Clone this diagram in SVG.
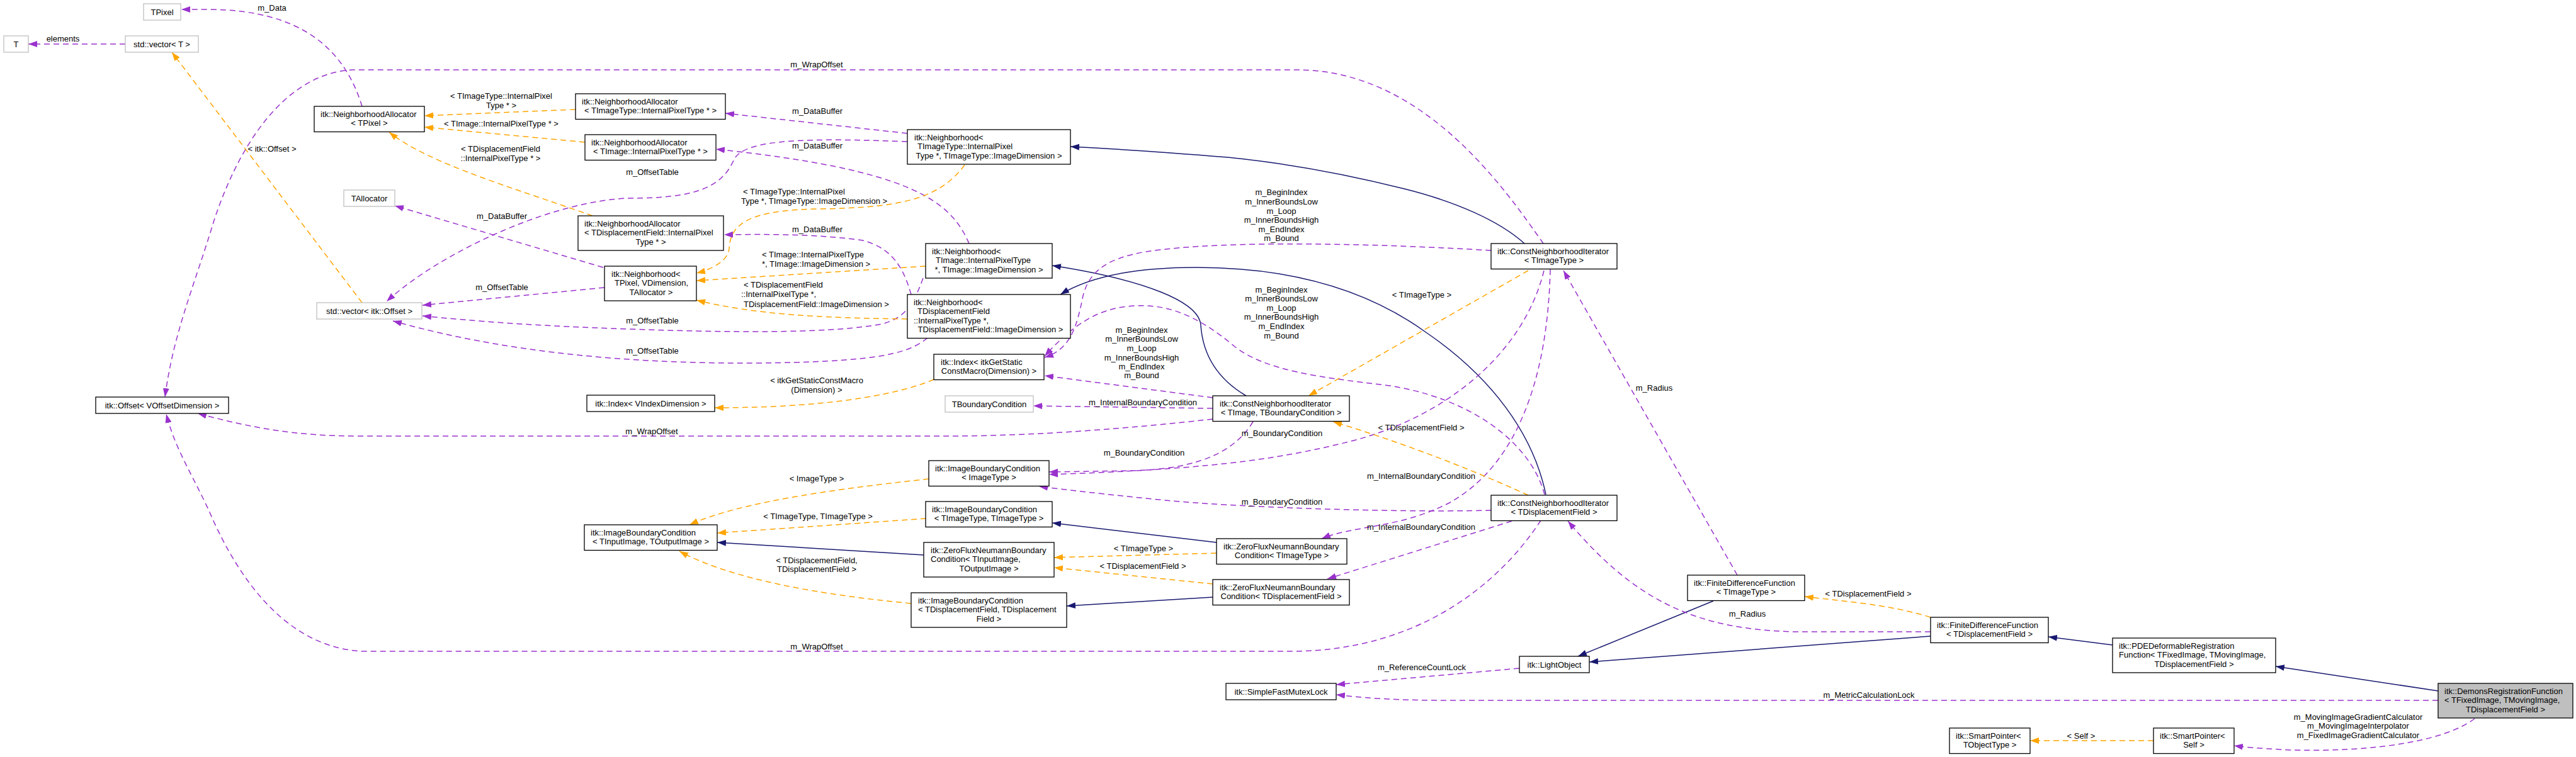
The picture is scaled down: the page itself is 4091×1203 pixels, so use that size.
<svg xmlns="http://www.w3.org/2000/svg" width="4091" height="1203" viewBox="0 0 4091 1203">
<style>
.n rect{fill:#fff;stroke:#000;stroke-width:1.3}
.g rect{stroke:#bfbfbf}
.hl rect{fill:#bfbfbf}
text{font-family:"Liberation Sans",Arial,sans-serif;font-size:13px;fill:#000}
.m{text-anchor:middle}
#edges path{fill:none;stroke-width:1.5}
.p{stroke:#9a32cd;stroke-dasharray:9,6;marker-end:url(#ap)}
.o{stroke:#ffa500;stroke-dasharray:9,6;marker-end:url(#ao)}
.b{stroke:#191970;marker-end:url(#ab)}
</style>
<defs>
<marker id="ap" markerUnits="userSpaceOnUse" markerWidth="15" markerHeight="10" refX="14" refY="5" orient="auto"><path d="M0,0 L14,5 L0,10 z" fill="#9a32cd"/></marker>
<marker id="ao" markerUnits="userSpaceOnUse" markerWidth="15" markerHeight="10" refX="14" refY="5" orient="auto"><path d="M0,0 L14,5 L0,10 z" fill="#ffa500"/></marker>
<marker id="ab" markerUnits="userSpaceOnUse" markerWidth="15" markerHeight="10" refX="14" refY="5" orient="auto"><path d="M0,0 L14,5 L0,10 z" fill="#191970"/></marker>
</defs>
<rect width="4091" height="1203" fill="#fff"/>
<g id="edges">
<path class="p" d="M199,70 L45,70"/>
<path class="p" d="M575,169 C548,80 480,15 330,15 L288,15"/>
<path class="o" d="M575,481 L273,83"/>
<path class="p" d="M2451,387 C2390,300 2260,111 2060,111 L560,111 C470,115 390,200 340,350 C310,450 275,530 262,631"/>
<path class="o" d="M914,174 L674,184"/>
<path class="o" d="M929,226 L674,202"/>
<path class="o" d="M941,343 C820,300 680,260 618,210"/>
<path class="p" d="M958,425 L627,327"/>
<path class="p" d="M1441,212 L1152,180"/>
<path class="p" d="M1539,387 C1510,320 1450,270 1137,237"/>
<path class="p" d="M1447,468 C1436,430 1420,395 1370,382 C1300,372 1220,372 1150,373"/>
<path class="p" d="M960,457 L671,485"/>
<path class="p" d="M1441,225 C1300,220 1180,218 1165,255 C1145,300 1100,315 1000,315 C880,318 700,400 614,479"/>
<path class="p" d="M1466,442 C1452,480 1440,505 1400,515 C1330,528 1200,530 1000,523 C850,518 750,510 671,502"/>
<path class="p" d="M1473,537 C1440,565 1380,575 1200,577 C1000,578 800,560 624,510"/>
<path class="o" d="M1532,262 C1490,320 1420,330 1300,332 C1190,334 1160,355 1158,395 C1156,415 1130,428 1106,434"/>
<path class="o" d="M1470,423 L1106,446"/>
<path class="o" d="M1441,507 C1300,505 1200,500 1106,477"/>
<path class="o" d="M1483,603 C1420,630 1300,648 1135,648"/>
<path class="p" d="M1926,666 C1800,680 1650,693 1500,693 L570,693 C470,693 400,680 314,657"/>
<path class="o" d="M1475,761 C1350,775 1180,795 1095,834"/>
<path class="o" d="M1471,824 L1139,847"/>
<path class="o" d="M1447,959 C1300,945 1160,920 1079,876"/>
<path class="p" d="M2447,827 C2380,930 2250,1035 2050,1035 L575,1035 C480,1030 400,960 340,830 C310,760 280,720 264,658"/>
<path class="o" d="M1932,879 L1674,886"/>
<path class="o" d="M1926,928 L1674,902"/>
<path class="b" d="M2421,387 C2380,350 2310,320 2230,300 C2150,280 2050,260 1950,250 C1850,242 1760,236 1700,233"/>
<path class="b" d="M1979,629 C1930,600 1910,560 1907,517 C1905,480 1820,445 1671,422"/>
<path class="b" d="M2455,786 C2435,690 2370,600 2263,527 C2170,460 2050,425 1900,425 C1800,425 1730,440 1684,468"/>
<path class="b" d="M1932,862 L1671,831"/>
<path class="b" d="M1467,882 L1139,862"/>
<path class="b" d="M1926,949 L1694,963"/>
<path class="b" d="M2721,955 L2506,1043"/>
<path class="b" d="M3066,1011 L2524,1052"/>
<path class="b" d="M3355,1025 L3253,1012"/>
<path class="b" d="M3872,1098 L3614,1059"/>
<path class="p" d="M2368,398 C2200,388 1950,380 1820,400 C1760,410 1730,430 1720,470 C1710,520 1700,555 1659,568"/>
<path class="p" d="M1926,632 L1659,597"/>
<path class="p" d="M2453,786 C2430,700 2330,630 2200,612 C2100,600 2010,590 1960,550 C1900,500 1850,480 1790,487 C1740,492 1700,520 1659,566"/>
<path class="p" d="M1926,649 L1641,645"/>
<path class="p" d="M1990,670 C1960,720 1900,745 1800,748 L1666,750"/>
<path class="p" d="M2452,430 C2420,560 2300,660 2150,700 C2050,725 1950,745 1666,754"/>
<path class="p" d="M2368,811 C2200,815 1950,805 1850,795 C1750,785 1690,778 1650,773"/>
<path class="p" d="M2462,428 C2458,600 2410,740 2300,800 C2220,840 2150,835 2099,856"/>
<path class="p" d="M2401,828 L2108,920"/>
<path class="o" d="M2427,430 L2078,629"/>
<path class="o" d="M2427,787 Q2280,720 2117,670"/>
<path class="p" d="M2759,914 L2483,430"/>
<path class="p" d="M3066,1004 L2850,1004 C2700,1000 2600,960 2490,828"/>
<path class="o" d="M3066,981 C3000,960 2920,955 2866,948"/>
<path class="p" d="M2413,1062 L2122,1088"/>
<path class="p" d="M3872,1113 L2300,1113 C2200,1113 2160,1108 2122,1104"/>
<path class="o" d="M3420,1177 L3224,1177"/>
<path class="p" d="M3930,1142 C3880,1180 3760,1195 3640,1192 C3600,1190 3570,1188 3548,1185"/>
<g id="edge-labels">
<text class="m" x="100" y="65.5">elements</text>
<text class="m" x="432" y="17">m_Data</text>
<text class="m" x="432" y="240.5">&lt; itk::Offset &gt;</text>
<text class="m" x="1297" y="106.5">m_WrapOffset</text>
<text class="m" x="796" y="157">&lt; TImageType::InternalPixel</text>
<text class="m" x="796" y="172">Type * &gt;</text>
<text class="m" x="796" y="200.5">&lt; TImage::InternalPixelType * &gt;</text>
<text class="m" x="795" y="240.5">&lt; TDisplacementField</text>
<text class="m" x="795" y="255.5">::InternalPixelType * &gt;</text>
<text class="m" x="797" y="347.5">m_DataBuffer</text>
<text class="m" x="1298" y="180.5">m_DataBuffer</text>
<text class="m" x="1298" y="235.5">m_DataBuffer</text>
<text class="m" x="1298" y="368.5">m_DataBuffer</text>
<text class="m" x="1036" y="277.5">m_OffsetTable</text>
<text class="m" x="797" y="460.5">m_OffsetTable</text>
<text class="m" x="1036" y="513.5">m_OffsetTable</text>
<text class="m" x="1036" y="561.5">m_OffsetTable</text>
<text x="1180" y="308.5">&lt; TImageType::InternalPixel</text>
<text x="1177" y="323.5">Type *, TImageType::ImageDimension &gt;</text>
<text x="1210" y="408.5">&lt; TImage::InternalPixelType</text>
<text x="1210" y="423.5">*, TImage::ImageDimension &gt;</text>
<text x="1181" y="456.5">&lt; TDisplacementField</text>
<text x="1177" y="472">::InternalPixelType *,</text>
<text x="1181" y="487.5">TDisplacementField::ImageDimension &gt;</text>
<text class="m" x="1297" y="609">&lt; itkGetStaticConstMacro</text>
<text class="m" x="1297" y="624">(Dimension) &gt;</text>
<text class="m" x="1035" y="689.5">m_WrapOffset</text>
<text class="m" x="1297" y="764.5">&lt; ImageType &gt;</text>
<text class="m" x="1299" y="824.5">&lt; TImageType, TImageType &gt;</text>
<text class="m" x="1297" y="895">&lt; TDisplacementField,</text>
<text class="m" x="1297" y="909">TDisplacementField &gt;</text>
<text class="m" x="1297" y="1031.5">m_WrapOffset</text>
<text class="m" x="1816" y="875.5">&lt; TImageType &gt;</text>
<text class="m" x="1815" y="903.5">&lt; TDisplacementField &gt;</text>
<text class="m" x="2035" y="309.5">m_BeginIndex</text>
<text class="m" x="2035" y="324.5">m_InnerBoundsLow</text>
<text class="m" x="2035" y="339.5">m_Loop</text>
<text class="m" x="2035" y="353.5">m_InnerBoundsHigh</text>
<text class="m" x="2035" y="368.5">m_EndIndex</text>
<text class="m" x="2035" y="382.5">m_Bound</text>
<text class="m" x="2035" y="464.5">m_BeginIndex</text>
<text class="m" x="2035" y="479">m_InnerBoundsLow</text>
<text class="m" x="2035" y="493.5">m_Loop</text>
<text class="m" x="2035" y="508">m_InnerBoundsHigh</text>
<text class="m" x="2035" y="523">m_EndIndex</text>
<text class="m" x="2035" y="537.5">m_Bound</text>
<text class="m" x="1813" y="528.5">m_BeginIndex</text>
<text class="m" x="1813" y="543">m_InnerBoundsLow</text>
<text class="m" x="1813" y="557.5">m_Loop</text>
<text class="m" x="1813" y="572.5">m_InnerBoundsHigh</text>
<text class="m" x="1813" y="587">m_EndIndex</text>
<text class="m" x="1813" y="601">m_Bound</text>
<text class="m" x="1815" y="643.5">m_InternalBoundaryCondition</text>
<text class="m" x="1817" y="723.5">m_BoundaryCondition</text>
<text class="m" x="2036" y="692.5">m_BoundaryCondition</text>
<text class="m" x="2036" y="801.5">m_BoundaryCondition</text>
<text class="m" x="2258" y="472.5">&lt; TImageType &gt;</text>
<text class="m" x="2257" y="683.5">&lt; TDisplacementField &gt;</text>
<text class="m" x="2257" y="760.5">m_InternalBoundaryCondition</text>
<text class="m" x="2257" y="841.5">m_InternalBoundaryCondition</text>
<text class="m" x="2627" y="620.5">m_Radius</text>
<text class="m" x="2775" y="979.5">m_Radius</text>
<text class="m" x="2967" y="947.5">&lt; TDisplacementField &gt;</text>
<text class="m" x="2258" y="1064.5">m_ReferenceCountLock</text>
<text class="m" x="2968" y="1108.5">m_MetricCalculationLock</text>
<text class="m" x="3305" y="1173.5">&lt; Self &gt;</text>
<text class="m" x="3745" y="1143.5">m_MovingImageGradientCalculator</text>
<text class="m" x="3745" y="1157.5">m_MovingImageInterpolator</text>
<text class="m" x="3745" y="1172.5">m_FixedImageGradientCalculator</text>
</g>
</g>
<g id="nodes">
<g id="TPixel" class="n g"><rect x="228" y="6" width="59" height="26"/><text class="m" x="257.5" y="23.5">TPixel</text></g>
<g id="T" class="n g"><rect x="6" y="57" width="39" height="26"/><text class="m" x="25.5" y="74.5">T</text></g>
<g id="vectorT" class="n g"><rect x="199" y="57" width="116" height="26"/><text class="m" x="257" y="74.5">std::vector&lt; T &gt;</text></g>
<g id="NA_TPixel" class="n"><rect x="499" y="169" width="175" height="40.5"/><text x="509" y="185.5">itk::NeighborhoodAllocator</text><text class="m" x="586.5" y="200">&lt; TPixel &gt;</text></g>
<g id="NA_TImageType" class="n"><rect x="914" y="149" width="238" height="40.5"/><text x="924" y="165.5">itk::NeighborhoodAllocator</text><text class="m" x="1033" y="180">&lt; TImageType::InternalPixelType * &gt;</text></g>
<g id="NA_TImage" class="n"><rect x="929" y="214" width="208" height="40.5"/><text x="939" y="230.5">itk::NeighborhoodAllocator</text><text class="m" x="1033" y="245">&lt; TImage::InternalPixelType * &gt;</text></g>
<g id="NA_TDF" class="n"><rect x="918" y="343" width="231" height="55"/><text x="928" y="359.5">itk::NeighborhoodAllocator</text><text x="928" y="374">&lt; TDisplacementField::InternalPixel</text><text class="m" x="1033.5" y="388.5">Type * &gt;</text></g>
<g id="TAllocator" class="n g"><rect x="546" y="302" width="81" height="26"/><text class="m" x="586.5" y="319.5">TAllocator</text></g>
<g id="vectorOffset" class="n g"><rect x="503" y="481" width="167" height="26"/><text class="m" x="586.5" y="498.5">std::vector&lt; itk::Offset &gt;</text></g>
<g id="Offset" class="n"><rect x="152" y="631" width="211" height="26"/><text class="m" x="257.5" y="648.5">itk::Offset&lt; VOffsetDimension &gt;</text></g>
<g id="NB_TPixel" class="n"><rect x="960" y="423" width="146" height="55"/><text x="971" y="439.5">itk::Neighborhood&lt;</text><text x="976" y="454">TPixel, VDimension,</text><text class="m" x="1034" y="468.5">TAllocator &gt;</text></g>
<g id="NB_TImageType" class="n"><rect x="1441" y="206" width="259" height="55"/><text x="1452" y="222.5">itk::Neighborhood&lt;</text><text x="1457" y="237">TImageType::InternalPixel</text><text class="m" x="1570.5" y="251.5">Type *, TImageType::ImageDimension &gt;</text></g>
<g id="NB_TImage" class="n"><rect x="1470" y="387" width="201" height="55"/><text x="1480" y="403.5">itk::Neighborhood&lt;</text><text x="1486" y="418">TImage::InternalPixelType</text><text class="m" x="1570.5" y="432.5">*, TImage::ImageDimension &gt;</text></g>
<g id="NB_TDF" class="n"><rect x="1441" y="468" width="259" height="69.5"/><text x="1451" y="484.5">itk::Neighborhood&lt;</text><text x="1457" y="499">TDisplacementField</text><text x="1451" y="513.5">::InternalPixelType *,</text><text class="m" x="1573" y="528">TDisplacementField::ImageDimension &gt;</text></g>
<g id="IndexV" class="n"><rect x="932" y="628" width="203" height="26"/><text class="m" x="1033.5" y="645.5">itk::Index&lt; VIndexDimension &gt;</text></g>
<g id="IndexG" class="n"><rect x="1483" y="563" width="175" height="40.5"/><text x="1494" y="579.5">itk::Index&lt; itkGetStatic</text><text class="m" x="1570.5" y="594">ConstMacro(Dimension) &gt;</text></g>
<g id="TBoundaryCondition" class="n g"><rect x="1501" y="629" width="140" height="26"/><text class="m" x="1571" y="646.5">TBoundaryCondition</text></g>
<g id="IBC_IO" class="n"><rect x="928" y="834" width="211" height="40.5"/><text x="938" y="850.5">itk::ImageBoundaryCondition</text><text class="m" x="1033.5" y="865">&lt; TInputImage, TOutputImage &gt;</text></g>
<g id="IBC_IT" class="n"><rect x="1475" y="732" width="191" height="40.5"/><text x="1485" y="748.5">itk::ImageBoundaryCondition</text><text class="m" x="1570.5" y="763">&lt; ImageType &gt;</text></g>
<g id="IBC_TT" class="n"><rect x="1470" y="797" width="201" height="40.5"/><text x="1480" y="813.5">itk::ImageBoundaryCondition</text><text class="m" x="1570.5" y="828">&lt; TImageType, TImageType &gt;</text></g>
<g id="ZF_IO" class="n"><rect x="1467" y="862" width="207" height="55"/><text x="1478" y="878.5">itk::ZeroFluxNeumannBoundary</text><text x="1478" y="893">Condition&lt; TInputImage,</text><text class="m" x="1570.5" y="907.5">TOutputImage &gt;</text></g>
<g id="IBC_DD" class="n"><rect x="1447" y="942" width="247" height="55"/><text x="1458" y="958.5">itk::ImageBoundaryCondition</text><text x="1458" y="973">&lt; TDisplacementField, TDisplacement</text><text class="m" x="1570.5" y="987.5">Field &gt;</text></g>
<g id="CNI_TIT" class="n"><rect x="2368" y="387" width="200" height="40.5"/><text x="2378" y="403.5">itk::ConstNeighborhoodIterator</text><text class="m" x="2468" y="418">&lt; TImageType &gt;</text></g>
<g id="CNI_TBC" class="n"><rect x="1926" y="629" width="217" height="40.5"/><text x="1937" y="645.5">itk::ConstNeighborhoodIterator</text><text class="m" x="2034.5" y="660">&lt; TImage, TBoundaryCondition &gt;</text></g>
<g id="CNI_TDF" class="n"><rect x="2368" y="787" width="200" height="40.5"/><text x="2378" y="803.5">itk::ConstNeighborhoodIterator</text><text class="m" x="2468" y="818">&lt; TDisplacementField &gt;</text></g>
<g id="ZF_TIT" class="n"><rect x="1932" y="856" width="207" height="40.5"/><text x="1943" y="872.5">itk::ZeroFluxNeumannBoundary</text><text class="m" x="2035.5" y="887">Condition&lt; TImageType &gt;</text></g>
<g id="ZF_TDF" class="n"><rect x="1926" y="921" width="217" height="40.5"/><text x="1937" y="937.5">itk::ZeroFluxNeumannBoundary</text><text class="m" x="2034.5" y="952">Condition&lt; TDisplacementField &gt;</text></g>
<g id="FDF_TIT" class="n"><rect x="2680" y="914" width="186" height="40.5"/><text x="2690" y="930.5">itk::FiniteDifferenceFunction</text><text class="m" x="2773" y="945">&lt; TImageType &gt;</text></g>
<g id="LightObject" class="n"><rect x="2413" y="1043" width="111" height="26"/><text class="m" x="2468.5" y="1060.5">itk::LightObject</text></g>
<g id="SimpleFastMutexLock" class="n"><rect x="1947" y="1086" width="175" height="26"/><text class="m" x="2034.5" y="1103.5">itk::SimpleFastMutexLock</text></g>
<g id="FDF_TDF" class="n"><rect x="3066" y="981" width="187" height="40.5"/><text x="3076" y="997.5">itk::FiniteDifferenceFunction</text><text class="m" x="3159.5" y="1012">&lt; TDisplacementField &gt;</text></g>
<g id="PDE" class="n"><rect x="3355" y="1014" width="259" height="55"/><text x="3365" y="1030.5">itk::PDEDeformableRegistration</text><text x="3365" y="1045">Function&lt; TFixedImage, TMovingImage,</text><text class="m" x="3484.5" y="1059.5">TDisplacementField &gt;</text></g>
<g id="Demons" class="n hl"><rect x="3872" y="1086" width="214" height="55"/><text x="3882" y="1102.5">itk::DemonsRegistrationFunction</text><text x="3882" y="1117">&lt; TFixedImage, TMovingImage,</text><text class="m" x="3979" y="1131.5">TDisplacementField &gt;</text></g>
<g id="SP_TObjectType" class="n"><rect x="3096" y="1157" width="128" height="40.5"/><text x="3106" y="1173.5">itk::SmartPointer&lt;</text><text class="m" x="3160" y="1188">TObjectType &gt;</text></g>
<g id="SP_Self" class="n"><rect x="3420" y="1157" width="128" height="40.5"/><text x="3430" y="1173.5">itk::SmartPointer&lt;</text><text class="m" x="3484" y="1188">Self &gt;</text></g>
</g>
</svg>
